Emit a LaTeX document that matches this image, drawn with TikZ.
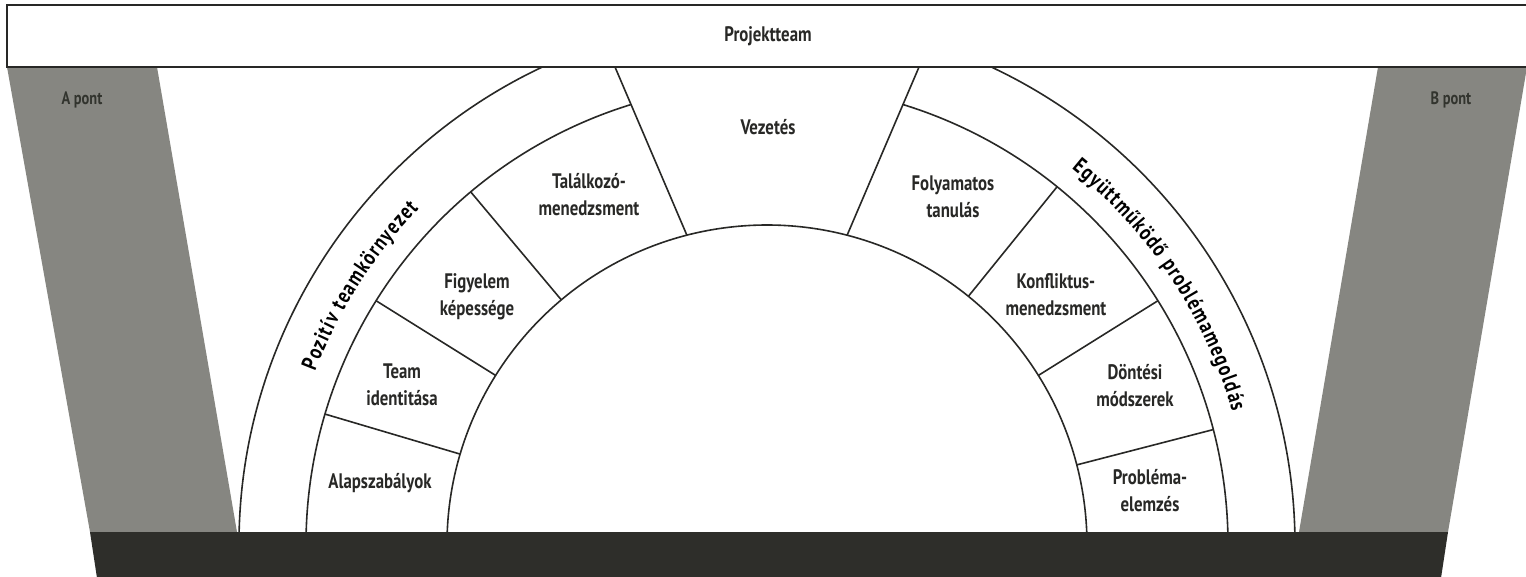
\documentclass[tikz,border=0pt]{standalone}
\usepackage{fontspec}
\setmainfont{PT Sans}[FakeStretch=0.8]
\usetikzlibrary{calc,decorations.text}
\definecolor{pillar}{RGB}{134,134,129}
\definecolor{basebar}{RGB}{46,46,42}
\definecolor{ink}{RGB}{40,40,38}
\definecolor{pointink}{RGB}{50,52,46}
\newcommand\ringfont{\fontsize{22}{22}\selectfont\bfseries}
\begin{document}
\begin{tikzpicture}[x=1pt,y=1pt,
  seg/.style={draw=ink, line width=1.6pt},
  lbl/.style={font=\fontsize{21}{27}\selectfont\bfseries, text=ink, align=center, inner sep=0pt},
  pointlbl/.style={font=\fontsize{18}{18}\selectfont\bfseries, text=pointink, inner sep=0pt},
  ringtext/.style={decorate, decoration={text along path, text align={fit to path}, text={|\ringfont|#1}}}
  ]
\useasboundingbox (0,0) rectangle (1526,576);
\clip (0,0) rectangle (1526,576);
\fill[white] (0,0) rectangle (1526,576);
\coordinate (c) at (767,31);

% the two grey pillars
\fill[pillar] (7,509) -- (157,509) -- (237,44) -- (90,44) -- cycle;
\fill[pillar] (1378,509) -- (1527,509) -- (1448,44) -- (1299,44) -- cycle;

% rings of the arch
\draw[seg] ($(c)+(185:320)$) arc[start angle=185, end angle=-5, radius=320];
\draw[seg] ($(c)+(185:461)$) arc[start angle=185, end angle=107.2, radius=461];
\draw[seg] ($(c)+(72.8:461)$) arc[start angle=72.8, end angle=-5, radius=461];
\draw[seg] ($(c)+(185:528)$) arc[start angle=185, end angle=-5, radius=528];

% keystone sides
\coordinate (kl) at ($(c)+(104.5:320)$);
\coordinate (kr) at ($(c)+(75.5:320)$);
\coordinate (klt) at (612,516);
\coordinate (krt) at (922,516);
\draw[seg] (kl) -- (klt);
\draw[seg] (kr) -- (krt);

% dividers between the stones
\foreach \a in {163.5,148,130,51,32,14.5}
  \draw[seg] ($(c)+(\a:320)$) -- ($(c)+(\a:461)$);

% top bar and base
\draw[line width=1.8pt, draw=ink, fill=white] (7,509) rectangle (1540,571);
\fill[basebar] (90,44) -- (1448,44) -- (1441,-2) -- (97,-2) -- cycle;

% labels
\node[lbl] (projekt) at (768,540) {Projektteam};
\node[lbl] (vezetes) at (768,449) {Vezetés};
\node[lbl] (talalkozo) at (589,381) {Találkozó-\\menedzsment};
\node[lbl] (figyelem) at (477,279) {Figyelem\\képessége};
\node[lbl] (team) at (402,191) {Team\\identitása};
\node[lbl] (alap) at (380,93) {Alapszabályok};
\node[lbl] (folyamatos) at (953,379) {Folyamatos\\tanulás};
\node[lbl] (konfliktus) at (1056,281) {Konfliktus-\\menedzsment};
\node[lbl] (dontesi) at (1135,190) {Döntési\\módszerek};
\node[lbl] (problema) at (1150,85) {Probléma-\\elemzés};
\node[pointlbl] (apont) at (82,476) {A pont};
\node[pointlbl] (bpont) at (1451,476) {B pont};

% texts running along the outer ring
\path[ringtext=Pozitív teamkörnyezet] ($(c)+(159:484)$) arc[start angle=159, end angle=136, radius=484];
\path[ringtext=Együttműködő problémamegoldás] ($(c)+(51:484)$) arc[start angle=51, end angle=16, radius=484];
\end{tikzpicture}
\end{document}
